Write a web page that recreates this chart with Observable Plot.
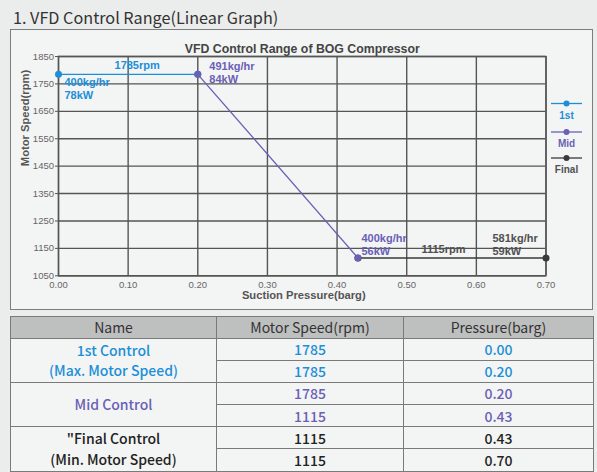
<!DOCTYPE html>
<html>
<head>
<meta charset="utf-8">
<script src="https://cdn.jsdelivr.net/npm/d3@7"></script>
<script src="https://cdn.jsdelivr.net/npm/@observablehq/plot@0.6"></script>
<style>
  html, body { margin:0; padding:0; background:#ebecec; width:597px; height:472px; overflow:hidden; }
  #page-title { position:absolute; left:13px; top:6px; font-family:"Noto Sans CJK KR","Noto Sans",sans-serif; font-size:16.2px; line-height:22px; color:#333; }
  #box { position:absolute; left:10px; top:29px; width:581px; height:279px; border:1.2px solid #7d7d7d; background:#f3f4f4; }
  #box svg.plot { position:absolute; left:0; top:0; }
  #legend { position:absolute; left:0; top:0; }
  table { position:absolute; left:10px; top:315.5px; width:583px; border-collapse:collapse; table-layout:fixed;
          font-family:"Noto Sans CJK KR","Noto Sans",sans-serif; font-size:14px; }
  th, td { border:1.4px solid #7a7a7a; text-align:center; padding:0; height:21px; line-height:1; }
  th { background:#bebfbf; font-weight:400; color:#333; }
  td { background:#f3f4f4; font-weight:500; }
  td.name { line-height:20.5px; }
</style>
</head>
<body>
<div id="page-title">1. VFD Control Range(Linear Graph)</div>
<div id="box"></div>
<table id="tbl"></table>
<script>
// ---- data ----
const seriesNames = ["1st", "Mid", "Final"];
const seriesColors = ["#1b8fd7", "#6b5fb6", "#3a3a3a"];
const rowNames = ["1st Control\n(Max. Motor Speed)", "Mid Control", "\"Final Control\n(Min. Motor Speed)"];
const speeds = [1785, 1785, 1785, 1115, 1115, 1115];
const pressures = [0.00, 0.20, 0.20, 0.43, 0.43, 0.70];
const xTicks = [0.00, 0.10, 0.20, 0.30, 0.40, 0.50, 0.60, 0.70];
const yTicks = [1050, 1150, 1250, 1350, 1450, 1550, 1650, 1750, 1850];
const chartTitle = "VFD Control Range of BOG Compressor";
const xLabel = "Suction Pressure(barg)";
const yLabel = "Motor Speed(rpm)";
const annoTexts = ["1785rpm", "400kg/hr\n78kW", "491kg/hr\n84kW", "400kg/hr\n56kW", "1115rpm", "581kg/hr\n59kW"];
const annoX = [0.10, 0.00, 0.20, 0.43, 0.565, 0.70];
const annoY = [1785, 1785, 1785, 1115, 1115, 1115];
const annoSeries = ["1st", "1st", "Mid", "Mid", "Final", "Final"];

// ---- records ----
const points = speeds.map((s, i) => ({series: seriesNames[Math.floor(i / 2)], x: pressures[i], y: s}));
const dotPoints = [...points].sort((a, b) => (a.series === "Mid") - (b.series === "Mid"));
const annos = annoTexts.map((t, i) => ({text: t, x: annoX[i], y: annoY[i], series: annoSeries[i]}));
const colorOf = s => seriesColors[seriesNames.indexOf(s)];
const textColorOf = s => s === "Final" ? "#505050" : colorOf(s);

const W = 581, H = 279;
const font = "'Liberation Sans', Arial, Helvetica, sans-serif";
const annoOffsets = [
  {dx: 9, dy: -9, textAnchor: "middle"},
  {dx: 6, dy: 14, textAnchor: "start"},
  {dx: 11.5, dy: -1.5, textAnchor: "start"},
  {dx: 3.5, dy: -13.5, textAnchor: "start"},
  {dx: -8.5, dy: -9, textAnchor: "middle"},
  {dx: -53.5, dy: -13.5, textAnchor: "start"}
];

const chart = Plot.plot({
  width: W, height: H,
  marginLeft: 47, marginRight: 46.5, marginTop: 26, marginBottom: 33.7,
  style: {background: "transparent", fontFamily: font, fontSize: "9.5px", color: "#666", overflow: "visible"},
  x: {domain: [0, 0.7], ticks: xTicks, label: null},
  y: {domain: [1050, 1850], ticks: yTicks, label: null},
  color: {domain: seriesNames, range: seriesColors},
  marks: [
    Plot.gridX(xTicks, {stroke: "#555", strokeOpacity: 1, strokeWidth: 1.4}),
    Plot.gridY(yTicks, {stroke: "#555", strokeOpacity: 1, strokeWidth: 1.4}),
    Plot.frame({stroke: "#555", strokeWidth: 1.4}),
    Plot.axisX(xTicks, {tickSize: 0, tickPadding: 5, tickFormat: d => d.toFixed(2), fill: "#666", label: null}),
    Plot.axisY(yTicks, {tickSize: 3, tickPadding: 1.5, tickFormat: d => String(d), fill: "#666", stroke: "#555", label: null}),
    Plot.line(points, {x: "x", y: "y", stroke: "series", strokeWidth: 1.3}),
    Plot.dot(dotPoints, {x: "x", y: "y", fill: "series", r: 3.5}),
    ...annos.map((a, i) => Plot.text([a], {
      x: "x", y: "y", text: "text", fill: textColorOf(a.series),
      fontWeight: "bold", fontSize: 11, lineHeight: 1.18, fontFamily: font,
      ...annoOffsets[i]
    })),
    Plot.text([chartTitle], {text: d => d, frameAnchor: "top", dy: -12, fontWeight: "bold", fontSize: 12.3, fill: "#444", fontFamily: font}),
    Plot.text([xLabel], {text: d => d, frameAnchor: "bottom", dy: 22.7, dx: 1.5, fontWeight: "bold", fontSize: 11.2, fill: "#555", fontFamily: font}),
    Plot.text([yLabel], {text: d => d, frameAnchor: "left", dx: -33, rotate: -90, fontWeight: "bold", fontSize: 11.2, fill: "#555", fontFamily: font})
  ]
});
document.getElementById("box").appendChild(chart);

// ---- legend ----
const leg = d3.select("#box").append("svg").attr("id", "legend").attr("width", W).attr("height", H);
const legX0 = 540, legX1 = 571, legCx = 555.5, legY = [73.5, 102, 128];
seriesNames.forEach((s, i) => {
  const g = leg.append("g");
  g.append("line").attr("x1", legX0).attr("x2", legX1).attr("y1", legY[i]).attr("y2", legY[i])
    .attr("stroke", colorOf(s)).attr("stroke-width", 1.3);
  g.append("circle").attr("cx", legCx).attr("cy", legY[i]).attr("r", 3).attr("fill", colorOf(s));
  g.append("text").attr("x", legCx).attr("y", legY[i] + 11.5).attr("dy", "0.35em").attr("text-anchor", "middle")
    .attr("font-family", font).attr("font-weight", "bold").attr("font-size", 10)
    .attr("fill", textColorOf(s)).text(s);
});

// ---- table ----
const tbl = d3.select("#tbl");
const colg = tbl.append("colgroup");
[206, 187, 190].forEach(w => colg.append("col").style("width", w + "px"));
const hr = tbl.append("tr").style("height", "22px");
["Name", "Motor Speed(rpm)", "Pressure(barg)"].forEach(h => hr.append("th").text(h));
speeds.forEach((s, i) => {
  const ser = seriesNames[Math.floor(i / 2)];
  const c = ser === "Final" ? "#222" : colorOf(ser);
  const tr = tbl.append("tr").style("height", "22.2px");
  if (i % 2 === 0) {
    tr.append("td").attr("rowspan", 2).attr("class", "name").style("color", c)
      .html(rowNames[i / 2].split("\n").join("<br>"));
  }
  tr.append("td").style("color", c).text(s);
  tr.append("td").style("color", c).text(pressures[i].toFixed(2));
});
</script>
</body>
</html>
